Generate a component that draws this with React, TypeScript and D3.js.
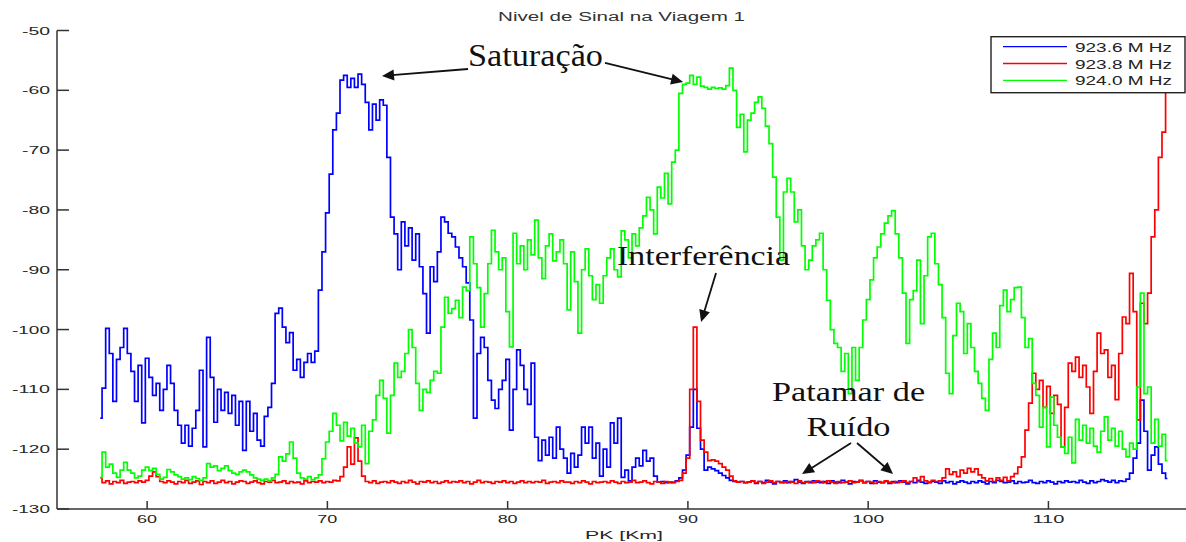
import React from 'react';
import * as d3 from 'd3';

// ---------- data ----------
const X_START = 57.4; // km of first sample
const X_STEP = 0.2;   // km between samples
const xTicks = [60, 70, 80, 90, 100, 110];
const yTicks = [-50, -60, -70, -80, -90, -100, -110, -120, -130];
const seriesNames = ['923.6 M Hz', '923.8 M Hz', '924.0 M Hz'];
const seriesColors = ['#0000ff', '#ff0000', '#00ff00'];
const title = 'Nivel de Sinal na Viagem 1';
const xLabel = 'PK [Km]';

const blue = [
  -114.8, -109.8, -99.8, -104, -112, -105, -103, -99.8, -104, -107,
  -112, -106, -115.6, -104.8, -108, -111, -109, -113.5, -110, -106,
  -109, -113.5, -116, -119, -116, -119.5, -116.5, -113.5, -106.8, -119.6,
  -101.3, -108, -115.5, -110, -113.5, -110.5, -114, -111, -116, -112,
  -120.2, -112, -117, -114, -118.5, -119.5, -114.5, -113, -109, -97.3,
  -96.4, -99.6, -102.2, -100.5, -106.8, -105, -108, -105.5, -104, -105.5,
  -103.6, -93.4, -87, -80.5, -74, -66.6, -63.8, -58.3, -57.5, -59.5,
  -58, -59.5, -57.3, -59, -62, -66.6, -62.3, -65, -61.6, -62.5,
  -71.2, -81.2, -84, -90, -82, -86, -83, -88.4, -84, -89.5,
  -94, -100.6, -89.5, -92, -87, -81.2, -82, -83.9, -84.5, -86.2,
  -88, -89.5, -92.2, -98.4, -114.8, -104, -101.3, -103, -108.5, -111.8,
  -113.2, -110, -108.5, -105, -116.8, -110, -103.4, -106, -110, -112.5,
  -105.6, -118, -121.9, -118.5, -121, -118, -121.5, -116.3, -120, -121.5,
  -124, -120.7, -123, -121, -116.3, -119, -116.3, -121.5, -119, -124.5,
  -120, -123, -115.6, -119, -114.8, -124.7, -123.5, -125.3, -123, -121.5,
  -122.8, -120.2, -122, -121.5, -124.5, -125.5, -125.4, -125.6, -125.5, -125.6,
  -125.3, -124.8, -123.5, -121, -116.3, -110, -116.5, -120, -123.5, -123,
  -123.3, -123.6, -124, -124.4, -124.8, -125.2, -125.4, -125.5, -125.4, -125.6,
  -125.5, -125.3, -125.7, -125.4, -125.6, -125.2, -125.5, -125.8, -125.4, -125.6,
  -125.3, -125.6, -125.4, -125.1, -125.5, -125.7, -125.4, -125.6, -125.3, -125.5,
  -125.6, -125.4, -125.7, -125.3, -125.5, -125.6, -125.2, -125.5, -125.8, -125.4,
  -125.5, -125.2, -125.6, -125.4, -125.7, -125.3, -125.5, -125.6, -125.4, -125.7,
  -125.4, -125.6, -125.3, -125.5, -125.8, -125.4, -125.6, -125.2, -125.5, -125.7,
  -125.6, -125.4, -125.5, -125.7, -125.3, -125.6, -125.4, -125.8, -125.5, -125.3,
  -125.5, -125.7, -125.4, -125.6, -125.3, -125.5, -125.8, -125.4, -125.6, -125.2,
  -125.4, -125.6, -125.5, -125.3, -125.7, -125.4, -125.6, -125.5, -125.2, -125.6,
  -125.7, -125.4, -125.6, -125.3, -125.5, -125.8, -125.4, -125.6, -125.3, -125.5,
  -125.4, -125.6, -125.2, -125.5, -125.7, -125.3, -125.6, -125.4, -125.1, -125.3,
  -125.5, -125.2, -125.6, -125.3, -125.4, -125, -124, -121.5, -119, -111.8,
  -117, -123.5, -121, -119.6, -122.5, -124, -124.9,
];

const red = [
  -124.8, -125.6, -125.3, -125.8, -125.4, -125.6, -125.2, -125.7, -125.5, -125.4,
  -125.6, -125.3, -125.5, -125.2, -124.5, -123.8, -124.6, -125.4, -125.6, -125.3,
  -125.5, -125.8, -125.4, -125.6, -125.2, -125.7, -125.5, -125.3, -125.9, -125.4,
  -125.6, -125.3, -125.7, -125.5, -125.2, -125.6, -125.4, -125.8, -125.5, -125.3,
  -125.4, -125.7, -125.5, -125.3, -125.6, -125.8, -125.4, -125.5, -125.2, -125.6,
  -125.5, -125.3, -125.7, -125.4, -125.6, -125.5, -125.8, -125.3, -125.6, -125.4,
  -125.5, -125.3, -125.6, -125.4, -125.5, -125.2, -125.3, -124.6, -123, -119.6,
  -122.5, -118.1, -122, -124.5, -125.4, -125.6, -125.3, -125.7, -125.5, -125.4,
  -125.6, -125.3, -125.5, -125.7, -125.4, -125.6, -125.2, -125.5, -125.8, -125.4,
  -125.5, -125.3, -125.6, -125.4, -125.7, -125.5, -125.3, -125.6, -125.4, -125.5,
  -125.3, -125.6, -125.4, -125.8, -125.5, -125.2, -125.6, -125.4, -125.5, -125.7,
  -125.4, -125.5, -125.3, -125.6, -125.4, -125.7, -125.5, -125.3, -125.6, -125.4,
  -125.6, -125.4, -125.5, -125.2, -125.7, -125.5, -125.4, -125.6, -125.3, -125.5,
  -125.5, -125.7, -125.4, -125.6, -125.3, -125.5, -125.8, -125.4, -125.6, -125.5,
  -125.4, -125.6, -125.3, -125.5, -125.7, -125.4, -125.6, -125.5, -125.2, -125.6,
  -125.5, -125.3, -125.6, -125.8, -125.4, -125.5, -125.7, -125.4, -125.6, -125.5,
  -125.4, -125.2, -124, -121.5, -110, -99.6, -112, -118.5, -120.5, -121.9,
  -121.8, -122, -122.4, -123, -123.5, -124.5, -125.3, -125.5, -125.4, -125.6,
  -125.5, -125.3, -125.6, -125.4, -125.7, -125.5, -125.3, -125.6, -125.4, -125.5,
  -125.6, -125.4, -125.5, -125.7, -125.3, -125.6, -125.5, -125.4, -125.6, -125.3,
  -125.4, -125.6, -125.3, -125.5, -125.7, -125.4, -125.6, -125.5, -125.3, -125.6,
  -125.5, -125.3, -125.6, -125.4, -125.5, -125.7, -125.4, -125.6, -125.3, -125.5,
  -125.6, -125.4, -125.5, -125.3, -125.6, -125.4, -124.8, -125.4, -124.6, -125.3,
  -125.5, -125.2, -125.4, -125.3, -124.8, -123.3, -124.2, -123.8, -124.6, -123.5,
  -124, -123.2, -123.8, -123.3, -124.3, -124.8, -125.3, -124.9, -125.4, -124.8,
  -125.2, -124.7, -125.3, -124.6, -124.1, -123, -121.3, -116.8, -112.3, -107.3,
  -110, -108.5, -113, -109.5, -114, -111, -112.5, -119.6, -113, -105.6,
  -107, -104.6, -108, -106, -109.6, -114, -107, -100.6, -104, -103.4,
  -108, -106, -111.7, -104, -97.9, -99, -90.6, -97, -115.1, -95.6,
  -99, -93.9, -84.5, -80, -71.2, -67, -60,
];

const green = [
  -124.7, -120.5, -123, -122.5, -124, -124.7, -123.5, -122.2, -123.5, -124,
  -124.8, -124.5, -123.5, -123, -123.6, -123.2, -124.2, -125, -124.7, -123.4,
  -123.8, -124.3, -124.6, -125, -124.8, -125.1, -124.6, -124.9, -125.2, -124.8,
  -122.4, -123, -122.8, -123.6, -123.2, -122.8, -123.6, -124, -124.2, -123.8,
  -123.5, -123.8, -124.3, -124.8, -125, -125.2, -125, -125.3, -124.8, -124.2,
  -121.3, -122, -120.8, -118.8, -121.5, -124, -124.8, -125, -124.6, -125.1,
  -124.8, -124.3, -121.6, -118.8, -117, -114, -116, -118.6, -115.5, -117.8,
  -116.5, -119, -119.6, -116, -122.4, -117, -115.1, -111, -108.5, -111.5,
  -117.3, -111, -105.6, -108, -107, -104, -100, -103, -109, -113.5,
  -110, -110.5, -108.5, -107, -107.3, -99.6, -94.6, -97.3, -96.5, -95.1,
  -98, -92.9, -93.5, -84.5, -89, -93, -99.6, -94, -89, -83.4,
  -87, -90, -88, -97, -102.9, -83.9, -89, -86, -90, -85,
  -87.5, -81.7, -88, -91.5, -86, -84, -88.5, -87, -85, -89,
  -96.7, -87, -92, -100.6, -90, -86.5, -91, -95, -92.5, -95.6,
  -91, -88, -86.5, -90, -91.2, -83.5, -85, -88, -84, -86,
  -83, -81, -77.9, -80, -84, -76.2, -78, -73.9, -79, -72,
  -70, -60.5, -59, -58.8, -57.5, -59, -57.8, -59.3, -59.5, -59.8,
  -59.5, -59.7, -59.6, -59.8, -59.2, -56.3, -60, -66.2, -64, -70.3,
  -65, -63.8, -62, -61.1, -63, -66, -68.9, -74.5, -81.2, -88.4,
  -77, -74.7, -77, -82, -80, -86, -90, -88.4, -86, -85,
  -83.9, -90, -95.1, -100, -102.3, -103, -107, -104, -110.7, -103,
  -108.5, -103, -98.4, -95, -91.7, -88, -86.2, -84, -82.2, -81,
  -80.1, -84, -88, -93.9, -102.3, -95, -93.5, -88.4, -99, -91,
  -84.5, -83.9, -89, -92.5, -98, -107.3, -110.7, -101, -95.6, -97,
  -104, -99, -103, -107, -109, -111.5, -113.5, -105, -100.6, -103,
  -96, -93.4, -97, -95, -93, -92.9, -98, -103, -101.5, -109,
  -111, -116.3, -113, -119.6, -111.3, -116, -118, -119.6, -120.7, -118,
  -122.3, -115, -118.5, -116, -119, -116.5, -119.5, -120.5, -117, -114.6,
  -118.5, -116.5, -119.5, -117, -120, -121.3, -119, -120, -109.6, -93.9,
  -110.7, -109.6, -119, -115, -119.5, -117.5, -121.9,
];

const seriesValues = [blue, red, green];

// annotations in data coordinates [km, dB]
const annotTexts = ['Saturação', 'Interferência', 'Patamar de', 'Ruído'];
const annotPos = [[77.8, -56.0], [86.07, -89.2], [94.67, -111.95], [96.58, -117.8]];
const annotSize = [31, 28, 28, 28];
const annotWidth = [135, 173, 153, 84];
const arrows = [
  [[77.8, -56.44], [73.03, -57.61]],
  [[85.4, -55.43], [89.73, -58.61]],
  [[91.56, -90.55], [90.73, -98.74]],
  [[99.05, -118.97], [96.33, -124.15]],
  [[99.38, -118.97], [101.38, -124.15]],
];

const W = 1186;
const H = 542;
const SANS = '"Liberation Sans", Arial, Helvetica, sans-serif';
const SERIF = '"Liberation Serif", "Times New Roman", serif';

function Arrow({ s, t }: { s: [number, number]; t: [number, number] }) {
  const dx = t[0] - s[0];
  const dy = t[1] - s[1];
  const len = Math.hypot(dx, dy);
  const ux = dx / len, uy = dy / len;
  const L = 12, hw = 5.5;
  const bx = t[0] - ux * L, by = t[1] - uy * L;
  const nx = -uy, ny = ux;
  const pts = `${t[0]},${t[1]} ${bx + nx * hw},${by + ny * hw} ${bx - nx * hw},${by - ny * hw}`;
  return (
    <g>
      <line x1={s[0]} y1={s[1]} x2={bx + ux * 2} y2={by + uy * 2} stroke="#111" strokeWidth={1.8} />
      <polygon points={pts} fill="#111" />
    </g>
  );
}

export default function App() {
  const x = d3.scaleLinear().domain([55, 120]).range([57, 57 + 65 * 18.026]);
  const y = d3.scaleLinear().domain([-130, -50]).range([509, 30.5]);
  const line = d3
    .line<number>()
    .x((_, i) => x(X_START + i * X_STEP))
    .y((d) => y(d))
    .curve(d3.curveStep);

  const x0 = x(55);
  const yBottom = y(-130);

  return (
    <svg
      width={W}
      height={H}
      viewBox={`0 0 ${W} ${H}`}
      style={{ position: 'absolute', left: 0, top: 0, background: '#fff' }}
    >
      <rect x={0} y={0} width={W} height={H} fill="#fff" />
      <defs>
        <clipPath id="plotclip">
          <rect x={x0} y={0} width={W - x0} height={yBottom} />
        </clipPath>
      </defs>

      {/* title */}
      <text
        x={498}
        y={20.5}
        fontFamily={SANS}
        fontSize={12.5}
        fill="#333"
        textLength={247}
        lengthAdjust="spacingAndGlyphs"
      >
        {title}
      </text>

      {/* series */}
      <g clipPath="url(#plotclip)">
        {seriesValues.map((vals, k) => (
          <path
            key={k}
            d={line(vals) || ''}
            fill="none"
            stroke={seriesColors[k]}
            strokeWidth={1.7}
            strokeLinejoin="miter"
          />
        ))}
      </g>

      {/* axes */}
      <line x1={x0} y1={y(-50)} x2={x0} y2={yBottom} stroke="#333" strokeWidth={1.5} />
      <line x1={x0} y1={yBottom} x2={W} y2={yBottom} stroke="#333" strokeWidth={1.5} />
      {yTicks.map((t) => {
        const lbl = String(t);
        const w = lbl.length === 3 ? 28 : 38;
        return (
          <g key={'y' + t}>
            <line x1={x0} x2={x0 + 12} y1={y(t)} y2={y(t)} stroke="#333" strokeWidth={1.5} />
            <text
              x={50 - w}
              y={y(t) + 4}
              fontFamily={SANS}
              fontSize={11}
              fill="#262626"
              textLength={w}
              lengthAdjust="spacingAndGlyphs"
            >
              {lbl}
            </text>
          </g>
        );
      })}
      {xTicks.map((t) => {
        const lbl = String(t);
        const w = lbl.length === 2 ? 20 : 32;
        return (
          <g key={'x' + t}>
            <line x1={x(t)} x2={x(t)} y1={yBottom} y2={yBottom - 8} stroke="#333" strokeWidth={1.5} />
            <text
              x={x(t) - w / 2}
              y={523}
              fontFamily={SANS}
              fontSize={11}
              fill="#262626"
              textLength={w}
              lengthAdjust="spacingAndGlyphs"
            >
              {lbl}
            </text>
          </g>
        );
      })}
      <text
        x={585}
        y={538.5}
        fontFamily={SANS}
        fontSize={11.5}
        fill="#262626"
        textLength={78}
        lengthAdjust="spacingAndGlyphs"
      >
        {xLabel}
      </text>

      {/* legend */}
      <rect x={991} y={36.7} width={194} height={56} fill="#fff" stroke="#222" strokeWidth={1.4} />
      {seriesNames.map((n, k) => {
        const ly = 46.7 + k * 16.8;
        return (
          <g key={n}>
            <line x1={1003} x2={1067} y1={ly} y2={ly} stroke={seriesColors[k]} strokeWidth={1.3} />
            <text
              x={1075}
              y={ly + 5}
              fontFamily={SANS}
              fontSize={13}
              fill="#222"
              textLength={97}
              lengthAdjust="spacingAndGlyphs"
            >
              {n}
            </text>
          </g>
        );
      })}

      {/* annotations */}
      {annotTexts.map((s, k) => (
        <text
          key={s}
          x={x(annotPos[k][0])}
          y={y(annotPos[k][1])}
          fontFamily={SERIF}
          fontSize={annotSize[k]}
          fill="#111"
          textLength={annotWidth[k]}
          lengthAdjust="spacingAndGlyphs"
        >
          {s}
        </text>
      ))}
      {arrows.map((a, k) => (
        <Arrow
          key={k}
          s={[x(a[0][0]), y(a[0][1])]}
          t={[x(a[1][0]), y(a[1][1])]}
        />
      ))}
    </svg>
  );
}
